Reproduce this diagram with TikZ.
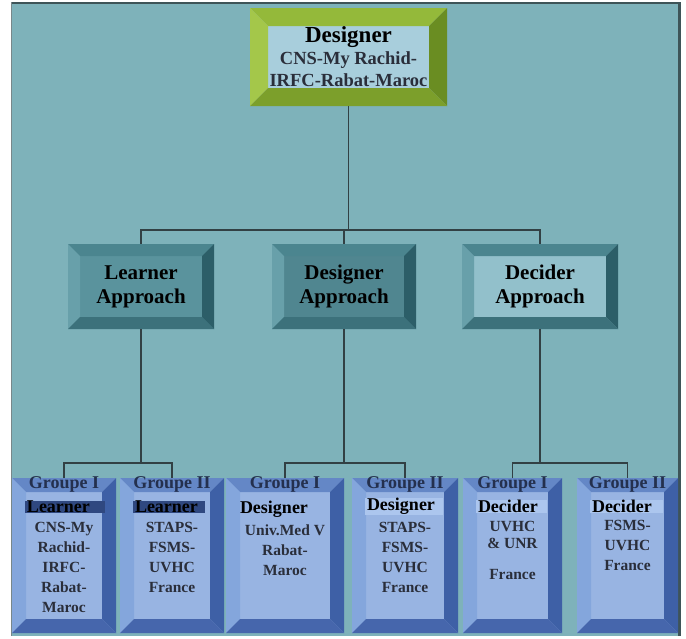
\documentclass[tikz,border=0pt]{standalone}
\usepackage{fontspec}
\setmainfont{Liberation Serif}
\usepackage{tikz}
\usetikzlibrary{positioning, calc}
\definecolor{panelteal}{RGB}{126,178,186}
\definecolor{panelline}{RGB}{62,84,88}
\definecolor{wiregray}{RGB}{50,64,68}
\definecolor{greenface}{RGB}{168,206,220}
\definecolor{greentop}{RGB}{148,185,58}
\definecolor{greenleft}{RGB}{164,199,74}
\definecolor{greenright}{RGB}{106,141,34}
\definecolor{greenbottom}{RGB}{124,159,43}
\definecolor{tealtop}{RGB}{75,133,143}
\definecolor{tealleft}{RGB}{104,160,170}
\definecolor{tealright}{RGB}{44,94,104}
\definecolor{tealbottom}{RGB}{60,113,123}
\definecolor{learnface}{RGB}{90,147,157}
\definecolor{designface}{RGB}{80,134,144}
\definecolor{decideface}{RGB}{146,192,203}
\definecolor{bluetop}{RGB}{100,135,198}
\definecolor{blueleft}{RGB}{132,166,220}
\definecolor{blueright}{RGB}{62,96,166}
\definecolor{bluebottom}{RGB}{70,102,172}
\definecolor{blueface}{RGB}{152,180,226}
\definecolor{bandnavy}{RGB}{47,72,128}
\definecolor{bandlight}{RGB}{172,198,238}
\definecolor{inkgray}{RGB}{42,46,58}
\definecolor{inknavy}{RGB}{36,48,78}

\begin{document}
\begin{tikzpicture}[x=1pt, y=1pt,
  bevelbox/.style n args={6}{fill=#1, inner sep=0pt, path picture={
    \fill[#2] (path picture bounding box.north west) -- (path picture bounding box.north east)
      -- ([shift={(-#6,-#6)}]path picture bounding box.north east) -- ([shift={(#6,-#6)}]path picture bounding box.north west) -- cycle;
    \fill[#3] (path picture bounding box.north west) -- ([shift={(#6,-#6)}]path picture bounding box.north west)
      -- ([shift={(#6,#6)}]path picture bounding box.south west) -- (path picture bounding box.south west) -- cycle;
    \fill[#4] (path picture bounding box.north east) -- (path picture bounding box.south east)
      -- ([shift={(-#6,#6)}]path picture bounding box.south east) -- ([shift={(-#6,-#6)}]path picture bounding box.north east) -- cycle;
    \fill[#5] (path picture bounding box.south west) -- (path picture bounding box.south east)
      -- ([shift={(-#6,#6)}]path picture bounding box.south east) -- ([shift={(#6,#6)}]path picture bounding box.south west) -- cycle;
  }},
  topbox/.style={bevelbox={greenface}{greentop}{greenleft}{greenright}{greenbottom}{18},
    minimum width=197pt, minimum height=98pt, align=center, text=inkgray,
    font=\bfseries\fontsize{18.5}{22}\selectfont},
  appbox/.style 2 args={bevelbox={#1}{tealtop}{tealleft}{tealright}{tealbottom}{12},
    minimum width=#2, minimum height=85pt, align=center,
    font=\bfseries\fontsize{21}{24}\selectfont},
  grpbox/.style={bevelbox={blueface}{bluetop}{blueleft}{blueright}{bluebottom}{14},
    minimum width=#1, minimum height=155pt},
  grplabel/.style={font=\bfseries\fontsize{18}{20}\selectfont, text=inknavy, inner sep=1pt},
  rolelabel/.style={font=\bfseries\fontsize{18}{20}\selectfont, anchor=west, align=left,
    inner xsep=2pt, inner ysep=0.5pt},
  learnband/.style={rolelabel, fill=bandnavy, text width=#1},
  lightband/.style={rolelabel, fill=bandlight, text width=#1},
  bodytext/.style={font=\bfseries\fontsize{15.5}{20}\selectfont, text=inkgray, align=center,
    inner sep=0pt, anchor=north},
  wire/.style={draw=wiregray, line width=1.8pt}]

% panel
\useasboundingbox (0,0) rectangle (686,-638);
\fill[white] (0,0) rectangle (686,-638);
\fill[panelteal] (11,-2) rectangle (681,-636);
\draw[panelline, line width=2.5pt] (11,-3) -- (681,-3);
\draw[panelline, line width=3pt] (679.5,-2) -- (679.5,-636);
\draw[panelline!70, line width=1pt] (11.5,-2) -- (11.5,-636);

% top
\node[topbox] (top) at (348.5,-57)
  {{\color{black}\fontsize{23}{24}\selectfont Designer}\\CNS-My Rachid-\\IRFC-Rabat-Maroc};

% approaches
\node[appbox={learnface}{146pt}] (la) at (141,-286.5) {Learner\\Approach};
\node[appbox={designface}{144pt}] (da) at (344,-286.5) {Designer\\Approach};
\node[appbox={decideface}{156pt}] (ca) at (540,-286.5) {Decider\\Approach};

% groups
\node[grpbox=104pt] (g1) at (64,-555.5) {};
\node[grpbox=104pt] (g2) at (172,-555.5) {};
\node[grpbox=118pt] (g3) at (285,-555.5) {};
\node[grpbox=106pt] (g4) at (405,-555.5) {};
\node[grpbox=99pt] (g5) at (512.5,-555.5) {};
\node[grpbox=101pt] (g6) at (627.5,-555.5) {};

\node[grplabel, below=-2pt of g1.north] (p1) {Groupe I};
\node[grplabel, below=-2pt of g2.north] (p2) {Groupe II};
\node[grplabel, below=-2pt of g3.north] (p3) {Groupe I};
\node[grplabel, below=-2pt of g4.north] (p4) {Groupe II};
\node[grplabel, below=-2pt of g5.north] (p5) {Groupe I};
\node[grplabel, below=-2pt of g6.north] (p6) {Groupe II};

\node[learnband=76pt] (r1) at ([shift={(13,48.5)}]g1.west) {Learner};
\node[learnband=68pt] (r2) at ([shift={(13,48.5)}]g2.west) {Learner};
\node[rolelabel] (r3) at ([shift={(12,46)}]g3.west) {Designer};
\node[lightband=74pt] (r4) at ([shift={(13,49)}]g4.west) {Designer};
\node[lightband=67pt] (r5) at ([shift={(13,49)}]g5.west) {Decider};
\node[lightband=69pt] (r6) at ([shift={(13,49)}]g6.west) {Decider};

\node[bodytext] (t1) at ([yshift=33]g1.center) {CNS-My\\Rachid-\\IRFC-\\Rabat-\\Maroc};
\node[bodytext] (t2) at ([yshift=33]g2.center) {STAPS-\\FSMS-\\UVHC\\France};
\node[bodytext] (t3) at ([yshift=31]g3.center) {Univ.Med V\\Rabat-\\Maroc};
\node[bodytext] (t4) at ([yshift=33]g4.center) {STAPS-\\FSMS-\\UVHC\\France};
\node[bodytext] (t5) at ([yshift=34]g5.center) {UVHC\\[-3pt]\& UNR\\[11pt]France};
\node[bodytext] (t6) at ([yshift=35]g6.center) {FSMS-\\UVHC\\France};

% connectors
\coordinate (busA) at (0,-230);
\coordinate (busB) at (0,-463);
\draw[wire] (top.south) -- (top.south |- busA);
\draw[wire] (la.north) -- (la.north |- busA) -- (ca.north |- busA) -- (ca.north);
\draw[wire] (da.north) -- (da.north |- busA);
\draw[wire] (la.south) -- (la.south |- busB);
\draw[wire] (da.south) -- (da.south |- busB);
\draw[wire] (ca.south) -- (ca.south |- busB);
\draw[wire] (g1.north) -- (g1.north |- busB) -- (g2.north |- busB) -- (g2.north);
\draw[wire] (g3.north) -- (g3.north |- busB) -- (g4.north |- busB) -- (g4.north);
\draw[wire] (g5.north) -- (g5.north |- busB) -- (g6.north |- busB) -- (g6.north);
\end{tikzpicture}
\end{document}
